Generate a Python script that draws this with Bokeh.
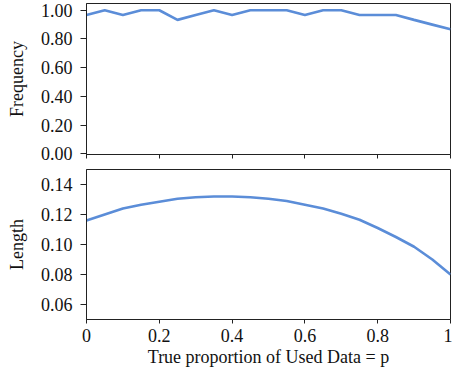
from bokeh.plotting import figure
from bokeh.layouts import column
from bokeh.models import FixedTicker, NumeralTickFormatter
from bokeh.embed import file_html
from bokeh.resources import INLINE

# ---- data ----
p_values = [0.0, 0.05, 0.1, 0.15, 0.2, 0.25, 0.3, 0.35, 0.4, 0.45, 0.5,
            0.55, 0.6, 0.65, 0.7, 0.75, 0.8, 0.85, 0.9, 0.95, 1.0]
frequency = [0.967, 1.0, 0.967, 1.0, 1.0, 0.933, 0.967, 1.0, 0.967, 1.0, 1.0,
             1.0, 0.967, 1.0, 1.0, 0.967, 0.967, 0.967, 0.933, 0.9, 0.867]
length = [0.116, 0.120, 0.124, 0.1265, 0.1285, 0.1305, 0.1315, 0.132, 0.132, 0.1315, 0.1305,
          0.129, 0.1265, 0.124, 0.1205, 0.1165, 0.111, 0.105, 0.0985, 0.090, 0.080]
x_ticks = [0, 0.2, 0.4, 0.6, 0.8, 1]
x_tick_labels = ["0", "0.2", "0.4", "0.6", "0.8", "1"]
freq_ticks = [0, 0.2, 0.4, 0.6, 0.8, 1.0]
len_ticks = [0.06, 0.08, 0.10, 0.12, 0.14]

FONT = "Liberation Serif"
FS = "18px"
LINE = "#5b8dd8"
DARK = "#222222"


def style(p):
    p.grid.visible = False
    p.outline_line_color = DARK
    p.outline_line_alpha = 1.0
    p.outline_line_width = 1
    for ax in (p.xaxis[0], p.yaxis[0]):
        ax.axis_line_color = DARK
        ax.major_tick_line_color = DARK
        ax.minor_tick_line_color = None
        ax.major_tick_in = 0
        ax.major_label_text_font = FONT
        ax.major_label_text_font_size = FS
        ax.major_label_text_color = "#111111"
        ax.axis_label_text_font = FONT
        ax.axis_label_text_font_size = FS
        ax.axis_label_text_font_style = "normal"
        ax.axis_label_text_color = "#111111"
    p.yaxis.major_tick_out = 6
    p.yaxis.major_label_standoff = 8
    p.yaxis.axis_label_standoff = 11
    p.xaxis.ticker = FixedTicker(ticks=x_ticks)
    p.xaxis.major_label_overrides = {t: l for t, l in zip(x_ticks, x_tick_labels)}
    p.xaxis.major_tick_out = 4


p1 = figure(frame_width=364, frame_height=151, x_range=(0, 1), y_range=(-0.004, 1.047),
            output_backend="svg", toolbar_location=None,
            min_border_left=86, min_border_right=2, min_border_top=3, min_border_bottom=11)
p1.line(p_values, frequency, line_color=LINE, line_width=2.6)
style(p1)
p1.yaxis.ticker = FixedTicker(ticks=freq_ticks)
p1.yaxis.formatter = NumeralTickFormatter(format="0.00")
p1.yaxis.axis_label = "Frequency"
p1.xaxis.major_label_overrides = {t: "" for t in x_ticks}
p1.xaxis.major_label_text_font_size = "0px"
p1.xaxis.major_label_standoff = 0

p2 = figure(frame_width=364, frame_height=150, x_range=(0, 1), y_range=(0.05, 0.15),
            output_backend="svg", toolbar_location=None,
            min_border_left=86, min_border_right=2, min_border_top=4, min_border_bottom=10)
p2.line(p_values, length, line_color=LINE, line_width=2.6)
style(p2)
p2.yaxis.ticker = FixedTicker(ticks=len_ticks)
p2.yaxis.formatter = NumeralTickFormatter(format="0.00")
p2.yaxis.axis_label = "Length"
p2.xaxis.axis_label = "True proportion of Used Data = p"
p2.xaxis.major_label_standoff = 5
p2.xaxis.axis_label_standoff = 2

layout = column(p1, p2, spacing=0)

open("out.html", "w").write(file_html(layout, INLINE))
